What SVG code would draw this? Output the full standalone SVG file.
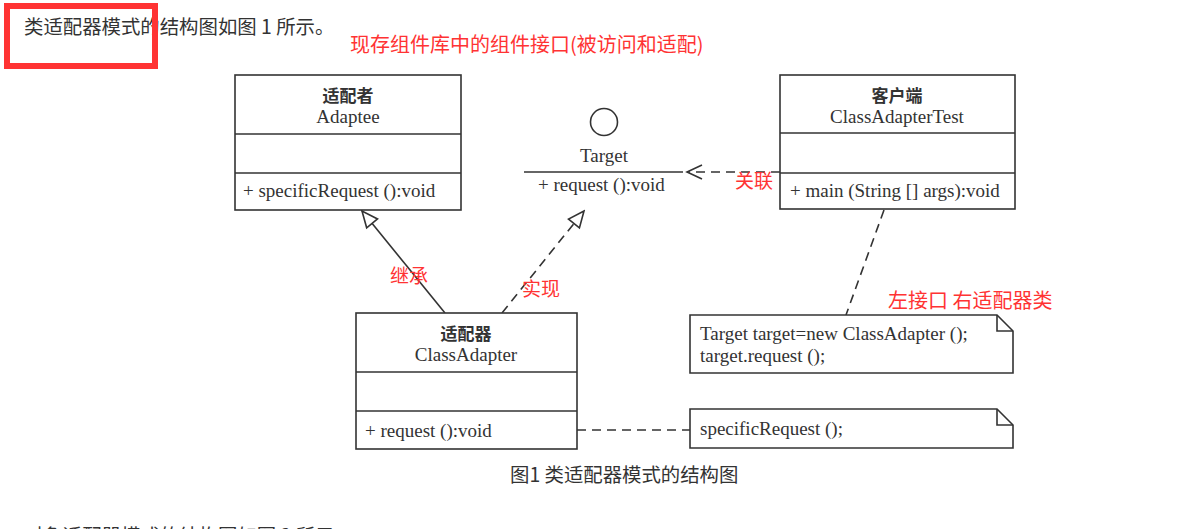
<svg xmlns="http://www.w3.org/2000/svg" width="1185" height="529" viewBox="0 0 1185 529">
<defs>
<style>
.bx{fill:#fff;stroke:#333;stroke-width:1.6}
.ln{stroke:#333;stroke-width:1.6;fill:none}
.dash{stroke:#333;stroke-width:1.6;fill:none;stroke-dasharray:9 6}
.uml{font-family:"Liberation Serif","Noto Sans CJK SC",serif;font-size:19px;fill:#333}
.cn{font-family:"Noto Sans CJK SC",sans-serif;font-size:17px;font-weight:bold;fill:#333}
.red{font-family:"Noto Sans CJK SC",sans-serif;font-size:19px;fill:#f33}
.big{font-size:20px}
.txt{font-family:"Noto Sans CJK SC",sans-serif;font-size:19.4px;fill:#333}
</style>
<marker id="tri" markerUnits="userSpaceOnUse" markerWidth="20" markerHeight="20" viewBox="-18 -9 20 18" refX="0" refY="0" orient="auto">
<path d="M0,0 L-16,-7 L-16,7 Z" fill="#fff" stroke="#333" stroke-width="1.6"/>
</marker>
<marker id="open" markerUnits="userSpaceOnUse" markerWidth="20" markerHeight="20" viewBox="-18 -9 20 18" refX="0" refY="0" orient="auto">
<path d="M-15,-7 L0,0 L-15,7" fill="none" stroke="#333" stroke-width="1.6"/>
</marker>
</defs>
<rect width="1185" height="529" fill="#fff"/>
<text class="txt" x="24" y="34">类适配器模式的结构图如图 1 所示。</text>
<rect x="7" y="6" width="148" height="60" fill="none" stroke="#f33" stroke-width="6"/>
<text class="red big" x="350" y="52">现存组件库中的组件接口(被访问和适配)</text>

<g id="connectors">
<line class="ln" x1="445" y1="313" x2="362" y2="211" marker-end="url(#tri)"/>
<line class="dash" x1="502" y1="313" x2="584" y2="211" marker-end="url(#tri)"/>
<line class="dash" x1="780" y1="172" x2="687" y2="172" marker-end="url(#open)"/>
<line class="dash" x1="884" y1="210" x2="846" y2="315"/>
<line class="dash" x1="577" y1="430" x2="690" y2="430"/>
</g>

<g id="adaptee">
<rect class="bx" x="235" y="75" width="226" height="135"/>
<line class="ln" x1="235" y1="134" x2="461" y2="134"/>
<line class="ln" x1="235" y1="173" x2="461" y2="173"/>
<text class="cn" x="348" y="102" text-anchor="middle">适配者</text>
<text class="uml" x="348" y="123" text-anchor="middle">Adaptee</text>
<text class="uml" x="243" y="197">+ specificRequest ():void</text>
</g>

<g id="target">
<circle cx="604" cy="122" r="13.5" fill="#fff" stroke="#333" stroke-width="1.6"/>
<text class="uml" x="604" y="162" text-anchor="middle">Target</text>
<line class="ln" x1="524" y1="172" x2="683" y2="172"/>
<text class="uml" x="538" y="191">+ request ():void</text>
</g>

<g id="client">
<rect class="bx" x="780" y="75" width="235" height="134"/>
<line class="ln" x1="780" y1="133" x2="1015" y2="133"/>
<line class="ln" x1="780" y1="173" x2="1015" y2="173"/>
<text class="cn" x="897" y="102" text-anchor="middle">客户端</text>
<text class="uml" x="897" y="123" text-anchor="middle">ClassAdapterTest</text>
<text class="uml" x="790" y="197">+ main (String [] args):void</text>
</g>

<g id="adapter">
<rect class="bx" x="356" y="313" width="221" height="136"/>
<line class="ln" x1="356" y1="372" x2="577" y2="372"/>
<line class="ln" x1="356" y1="411" x2="577" y2="411"/>
<text class="cn" x="466" y="340" text-anchor="middle">适配器</text>
<text class="uml" x="466" y="361" text-anchor="middle">ClassAdapter</text>
<text class="uml" x="365" y="437">+ request ():void</text>
</g>

<g id="note1">
<path class="bx" d="M690,315 H997 L1013,331 V373 H690 Z"/>
<path class="ln" d="M997,315 V331 H1013"/>
<text class="uml" x="700" y="340">Target target=new ClassAdapter ();</text>
<text class="uml" x="700" y="362">target.request ();</text>
</g>

<g id="note2">
<path class="bx" d="M690,409 H997 L1013,425 V448 H690 Z"/>
<path class="ln" d="M997,409 V425 H1013"/>
<text class="uml" x="700" y="435">specificRequest ();</text>
</g>

<text class="red" x="735" y="188">关联</text>
<text class="red" x="390" y="283">继承</text>
<text class="red" x="522" y="296">实现</text>
<text class="red big" x="888" y="308">左接口 右适配器类</text>

<text class="txt" x="510" y="482">图1 类适配器模式的结构图</text>
<text class="txt" x="24" y="543">对象适配器模式的结构图如图 2 所示。</text>
</svg>
